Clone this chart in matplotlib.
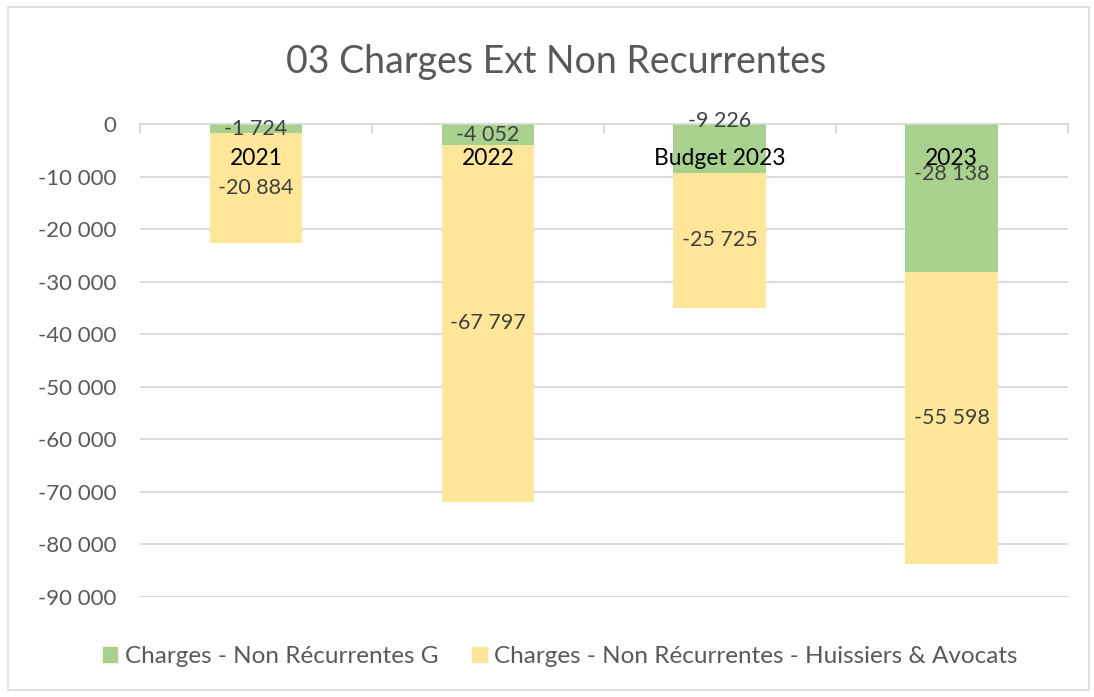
import matplotlib.pyplot as plt
import matplotlib.patches as mpatches
import numpy as np

categories = ["2021", "2022", "Budget 2023", "2023"]
charges_g = [-1724, -4052, -9226, -28138]
huissiers = [-20884, -67797, -25725, -55598]
series_names = ["Charges - Non Récurrentes G",
                "Charges - Non Récurrentes - Huissiers & Avocats"]

GREEN = "#A9D18E"
YELLOW = "#FFE699"
GRID = "#D9D9D9"
TXT = "#404040"

plt.rcParams['font.family'] = ['Lato', 'DejaVu Sans']


def fmt(v):
    return f"{v:,.0f}".replace(",", " ")


fig = plt.figure(figsize=(10.94, 6.97), dpi=100)
ax = fig.add_axes([0.128, 0.1435, 0.848, 0.6785])

x = np.arange(len(categories))
g = np.array(charges_g)
h = np.array(huissiers)

ax.bar(x, g, width=0.4, color=GREEN, label=series_names[0], zorder=2)
ax.bar(x, h, width=0.4, bottom=g, color=YELLOW, label=series_names[1], zorder=2)

ax.set_xlim(-0.5, len(categories) - 0.5)
ax.set_ylim(-90000, 0)
yt = np.arange(-90000, 1, 10000)
ax.set_yticks(yt)
ax.set_yticklabels([fmt(t) for t in yt])
ax.yaxis.grid(True, color=GRID, linewidth=1.3, zorder=0)
ax.tick_params(axis='y', length=0, labelsize=16, labelcolor="#595959", pad=17)

# category axis sits at zero (top), ticks between categories
ax.set_xticks(np.arange(-0.5, len(categories), 1.0))
ax.set_xticklabels([])
ax.xaxis.set_ticks_position('top')
ax.tick_params(axis='x', direction='in', length=7, color=GRID, width=1.3)
for s in ['left', 'right', 'bottom']:
    ax.spines[s].set_visible(False)
ax.spines['top'].set_color(GRID)
ax.spines['top'].set_linewidth(1.3)

# category labels drawn over the bars just under the zero line
for xi, c in zip(x, categories):
    ax.annotate(c, (xi, 0), xytext=(0, -17), textcoords='offset points',
                ha='center', va='top', fontsize=16.5, color='black', zorder=5)

# data labels (two were shifted by hand in the original)
g_shift = [0, 0, 20, 17]
for xi, v, dy in zip(x, g, g_shift):
    ax.annotate(fmt(v), (xi, v / 2), xytext=(0, dy), textcoords='offset points',
                ha='center', va='center', fontsize=15.5, color=TXT, zorder=5)
for xi, v, b in zip(x, h, g):
    ax.annotate(fmt(v), (xi, b + v / 2), xytext=(0, 0), textcoords='offset points',
                ha='center', va='center', fontsize=15.5, color=TXT, zorder=5)

fig.suptitle("03 Charges Ext Non Recurrentes", x=0.508, y=0.937, fontsize=27,
             color="#595959")

handles = [mpatches.Patch(color=GREEN), mpatches.Patch(color=YELLOW)]
fig.legend(handles, series_names, loc='center', bbox_to_anchor=(0.512, 0.058),
           ncol=2, frameon=False, fontsize=17.5, labelcolor="#595959",
           handlelength=0.6, handleheight=0.6, handletextpad=0.3, columnspacing=1.4)

fig.add_artist(mpatches.Rectangle((0.007, 0.01), 0.988, 0.98, transform=fig.transFigure,
                                  fill=False, edgecolor=GRID, linewidth=1.2))

fig.savefig("out.png", dpi=100)
plt.close(fig)
